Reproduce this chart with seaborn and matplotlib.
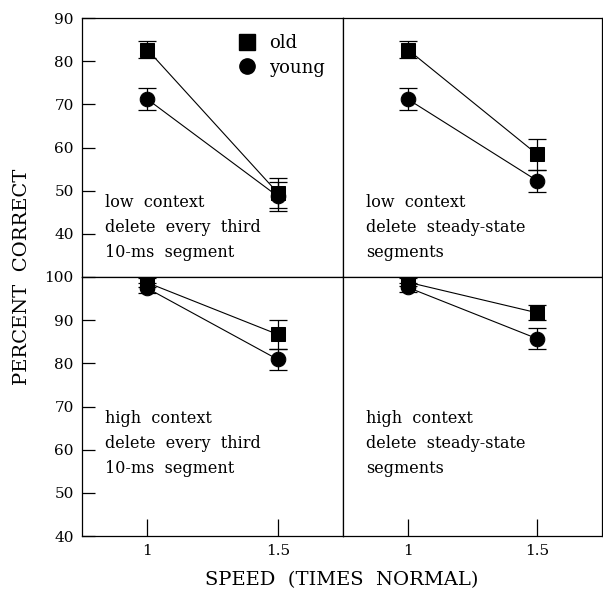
import pandas as pd
import matplotlib
matplotlib.use("Agg")
import matplotlib.pyplot as plt
import seaborn as sns
from matplotlib.lines import Line2D

# values
speeds = [1, 1.5]
panels = ["low_third", "low_steady", "high_third", "high_steady"]
old_pct = {
    "low_third": [82.7, 49.5],
    "low_steady": [82.7, 58.4],
    "high_third": [98.7, 86.7],
    "high_steady": [98.8, 91.7],
}
old_err = {
    "low_third": [2.0, 3.5],
    "low_steady": [2.0, 3.6],
    "high_third": [1.0, 3.3],
    "high_steady": [0.9, 1.7],
}
young_pct = {
    "low_third": [71.2, 48.7],
    "low_steady": [71.2, 52.3],
    "high_third": [97.4, 80.9],
    "high_steady": [97.6, 85.7],
}
young_err = {
    "low_third": [2.6, 3.3],
    "low_steady": [2.6, 2.5],
    "high_third": [1.1, 2.5],
    "high_steady": [1.0, 2.4],
}
panel_text = {
    "low_third": "low  context\ndelete  every  third\n10-ms  segment",
    "low_steady": "low  context\ndelete  steady-state\nsegments",
    "high_third": "high  context\ndelete  every  third\n10-ms  segment",
    "high_steady": "high  context\ndelete  steady-state\nsegments",
}

rows = []
for p in panels:
    for i, s in enumerate(speeds):
        rows.append({"panel": p, "group": "old", "speed": s,
                     "pct": old_pct[p][i], "err": old_err[p][i]})
        rows.append({"panel": p, "group": "young", "speed": s,
                     "pct": young_pct[p][i], "err": young_err[p][i]})
df = pd.DataFrame(rows)

sns.set_theme(style="white")
plt.rcParams["font.family"] = ["DejaVu Serif"]
plt.rcParams["text.color"] = "black"

fig = plt.figure(figsize=(6.03, 5.94), dpi=100)
L, R, B, T = 82 / 603, 602 / 603, 58 / 594, 576 / 594
MX, MY = 343 / 603, 317 / 594
boxes = {
    "low_third": [L, MY, MX - L, T - MY],
    "low_steady": [MX, MY, R - MX, T - MY],
    "high_third": [L, B, MX - L, MY - B],
    "high_steady": [MX, B, R - MX, MY - B],
}
marks = {"old": "s", "young": "o"}

for p in panels:
    ax = fig.add_axes(boxes[p])
    sub = df[df["panel"] == p]
    for g in ["old", "young"]:
        gs = sub[sub["group"] == g]
        ax.errorbar(gs["speed"], gs["pct"], yerr=gs["err"], fmt="none",
                    ecolor="black", elinewidth=0.9, capsize=6.5, capthick=0.9)
    sns.lineplot(data=sub, x="speed", y="pct", style="group", markers=marks,
                 dashes=False, color="black", linewidth=0.8, markersize=10.5,
                 markeredgecolor="black", legend=False, ax=ax)
    ax.set_xlim(0.75, 1.75)
    top = p.startswith("low")
    if top:
        ax.set_ylim(30, 90)
        ax.set_yticks([40, 50, 60, 70, 80, 90])
        ty = 0.322
    else:
        ax.set_ylim(40, 100)
        ax.set_yticks([40, 50, 60, 70, 80, 90, 100])
        ty = 0.488
    ax.set_xticks(speeds)
    ax.set_xticklabels(["1", "1.5"])
    ax.set_xlabel("")
    ax.set_ylabel("")
    ax.tick_params(direction="in", length=9, width=0.9, labelsize=11,
                   colors="black", left=p.endswith("third"), bottom=not top,
                   labelleft=p.endswith("third"), labelbottom=not top,
                   pad=6)
    ax.tick_params(axis="x", length=12)
    for sp in ax.spines.values():
        sp.set_color("black")
        sp.set_linewidth(0.9)
    ax.text(0.09, ty, panel_text[p], transform=ax.transAxes, fontsize=11.5,
            va="top", ha="left", linespacing=1.62, color="black")
    if p == "low_third":
        handles = [Line2D([], [], marker="s", color="black", linestyle="none", markersize=11),
                   Line2D([], [], marker="o", color="black", linestyle="none", markersize=11)]
        ax.legend(handles, ["old", "young"], loc="upper left",
                  bbox_to_anchor=(0.53, 1.0), frameon=False, fontsize=13,
                  handletextpad=0.6, labelspacing=0.35, handlelength=1.2)

fig.text(22 / 603, 1 - 277 / 594, "PERCENT  CORRECT", rotation=90,
         ha="center", va="center", fontsize=14)
fig.text(342 / 603, 1 - 580 / 594, "SPEED  (TIMES  NORMAL)",
         ha="center", va="center", fontsize=14)

fig.savefig("out.png", dpi=100)
